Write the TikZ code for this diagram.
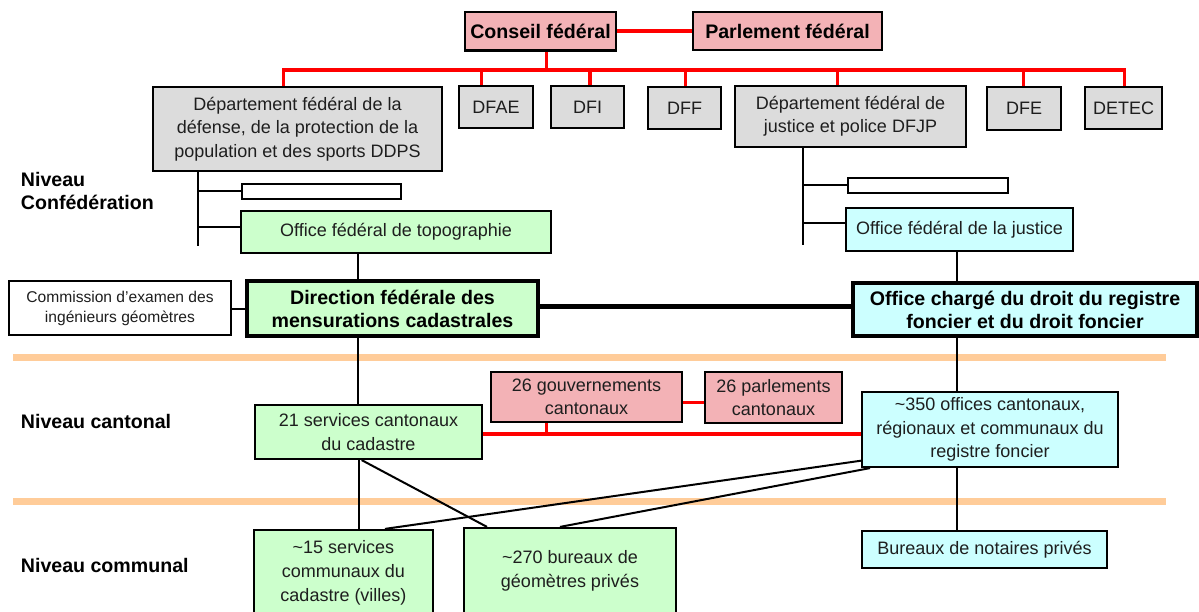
\documentclass[tikz,border=0pt]{standalone}
\usepackage{fontspec}
\setmainfont{Liberation Sans}
\usetikzlibrary{calc}
\definecolor{boxgrey}{RGB}{220,220,220}
\definecolor{lgreen}{RGB}{204,255,204}
\definecolor{lcyan}{RGB}{204,255,255}
\definecolor{pinkr}{RGB}{243,178,182}
\definecolor{peach}{RGB}{255,204,153}
\definecolor{redl}{RGB}{255,0,0}
\definecolor{txt}{RGB}{30,30,30}
\newcommand\regf{\fontsize{18}{23.3}\selectfont}
\newcommand\smf{\fontsize{15.6}{20}\selectfont}
\newcommand\boldf{\fontsize{19.6}{23}\selectfont\bfseries}
\begin{document}
\begin{tikzpicture}[x=1pt,y=-1pt,
  box/.style={draw, line width=2.2pt, inner sep=0pt, align=center, font=\regf, text=txt},
  greybox/.style={box, fill=boxgrey},
  greenbox/.style={box, fill=lgreen},
  cyanbox/.style={box, fill=lcyan},
  pinkbox/.style={box, fill=pinkr},
  emptybox/.style={box, fill=white, line width=2pt},
  mainbox/.style={box, line width=4pt, font=\boldf, text=black},
  lvl/.style={anchor=west, align=left, inner sep=0pt, font=\boldf},
  conn/.style={draw, line width=2pt},
  redline/.style={draw=redl, line width=3.5pt},
  band/.style={draw=peach, line width=7pt}]
\useasboundingbox (0,0) rectangle (1199,612);

% orange level bands
\coordinate (b1l) at (13.3,357.7); \coordinate (b1r) at (1165.7,357.7);
\coordinate (b2l) at (13.3,501.3); \coordinate (b2r) at (1165.7,501.3);
\draw[band] (b1l) -- (b1r);
\draw[band] (b2l) -- (b2r);

% federal top
\node[pinkbox, font=\boldf, text=black, minimum width=151pt, minimum height=38.5pt] (conseil) at (540.5,31.25) {Conseil fédéral};
\node[pinkbox, font=\boldf, text=black, minimum width=189pt, minimum height=38pt] (parlement) at (787.5,31) {Parlement fédéral};

\node[greybox, minimum width=289pt, minimum height=84pt] (ddps) at (297.5,129) {Département fédéral de la\\défense, de la protection de la\\population et des sports DDPS};
\node[greybox, minimum width=74pt, minimum height=42pt] (dfae) at (496,107) {DFAE};
\node[greybox, minimum width=73pt, minimum height=42pt] (dfi) at (587.5,107) {DFI};
\node[greybox, minimum width=73pt, minimum height=42pt] (dff) at (684.5,108) {DFF};
\node[greybox, minimum width=231pt, minimum height=61pt] (dfjp) at (850.5,116.5) {Département fédéral de\\justice et police DFJP};
\node[greybox, minimum width=74pt, minimum height=43pt] (dfe) at (1024,108.5) {DFE};
\node[greybox, minimum width=77pt, minimum height=42pt] (detec) at (1123.5,108) {DETEC};

\node[emptybox, minimum width=159pt, minimum height=15pt] (empty1) at (321.5,191.5) {};
\node[greenbox, minimum width=310pt, minimum height=42pt] (topo) at (396,232) {Office fédéral de topographie};
\node[emptybox, minimum width=160pt, minimum height=15pt] (empty2) at (928,185.5) {};
\node[cyanbox, minimum width=227pt, minimum height=43pt] (ofj) at (959.5,229.5) {Office fédéral de la justice};

\node[box, fill=white, font=\smf, minimum width=222pt, minimum height=54pt] (comm) at (120,308) {Commission d’examen des\\ingénieurs géomètres};
\node[mainbox, fill=lgreen, minimum width=291pt, minimum height=55pt] (dir) at (392.5,308.5) {Direction fédérale des\\mensurations cadastrales};
\node[mainbox, fill=lcyan, minimum width=344pt, minimum height=53pt] (ocd) at (1025,309.5) {Office chargé du droit du registre\\foncier et du droit foncier};

% cantonal
\node[pinkbox, minimum width=191pt, minimum height=50pt] (gouv) at (586.5,397) {26 gouvernements\\cantonaux};
\node[pinkbox, minimum width=137pt, minimum height=51pt] (parl) at (773.5,397.5) {26 parlements\\cantonaux};
\node[greenbox, minimum width=227pt, minimum height=54pt] (s21) at (368.5,432) {21 services cantonaux\\du cadastre};
\node[cyanbox, minimum width=256pt, minimum height=75pt] (o350) at (990,429.5) {\textasciitilde350 offices cantonaux,\\régionaux et communaux du\\registre foncier};

% communal
\node[greenbox, font=\fontsize{18}{24.2}\selectfont, minimum width=179pt, minimum height=86pt] (s15) at (343.5,573) {\textasciitilde15 services\\communaux du\\cadastre (villes)};
\node[greenbox, font=\fontsize{18}{24}\selectfont, minimum width=212pt, minimum height=86pt] (b270) at (570,571) {\textasciitilde270 bureaux de\\géomètres privés};
\node[cyanbox, minimum width=245pt, minimum height=37pt] (bur) at (984.5,549.5) {Bureaux de notaires privés};

% level labels
\node[lvl] (lv1) at (20.7,190.5) {Niveau\\Confédération};
\node[lvl] (lv2) at (20.7,421) {Niveau cantonal};
\node[lvl] (lv3) at (20.7,565) {Niveau communal};

% red federal links
\coordinate (cp) at (conseil.east);
\draw[redline] (cp) -- (cp -| parlement.west);
\coordinate (bc) at (546.7,70);
\draw[redline] (bc |- conseil.south) -- (bc);
\coordinate (dA) at (283.3,70);
\coordinate (dB) at (481.7,70);
\coordinate (dC) at (590,70);
\coordinate (dD) at (685.7,70);
\coordinate (dE) at (837.3,70);
\coordinate (dF) at (1023.3,70);
\coordinate (dG) at (1124.3,70);
\draw[redline] (dA |- ddps.north) -- (dA) -- (dG) -- (dG |- detec.north);
\draw[redline] (dB) -- (dB |- dfae.north);
\draw[redline] (dC) -- (dC |- dfi.north);
\draw[redline] (dD) -- (dD |- dff.north);
\draw[redline] (dE) -- (dE |- dfjp.north);
\draw[redline] (dF) -- (dF |- dfe.north);

% DDPS tree
\coordinate (t1) at (197.7,245.7);
\coordinate (tb1) at ($(topo.west)+(0,-5.3)$);
\draw[conn] (t1 |- ddps.south) -- (t1);
\draw[conn] (t1 |- empty1.west) -- (empty1.west);
\draw[conn] (t1 |- tb1) -- (tb1);

% DFJP tree
\coordinate (t2) at (802.7,245);
\coordinate (tb2) at ($(ofj.west)+(0,-6.2)$);
\draw[conn] (t2 |- dfjp.south) -- (t2);
\draw[conn] (t2 |- empty2.west) -- (empty2.west);
\draw[conn] (t2 |- tb2) -- (tb2);

% vertical connectors
\coordinate (vL) at (358.3,0);
\coordinate (vR) at (956.7,0);
\draw[conn] (vL |- topo.south) -- (vL |- dir.north);
\draw[conn] (vR |- ofj.south) -- (vR |- ocd.north);
\draw[conn] (vL |- dir.south) -- (vL |- s21.north);
\draw[conn] (vR |- ocd.south) -- (vR |- o350.north);
\draw[conn] (vR |- o350.south) -- (vR |- bur.north);
\coordinate (vL2) at (359.3,0);
\draw[conn] (vL2 |- s21.south) -- (vL2 |- s15.north);

% horizontal links
\coordinate (cd) at ($(comm.east)+(0,1.3)$);
\draw[conn] (cd) -- (cd -| dir.west);
\coordinate (dd) at ($(dir.east)+(0,-2.5)$);
\draw[conn, line width=5pt] (dd) -- (dd -| ocd.west);

% cantonal red links
\coordinate (gp) at ($(gouv.east)+(0,5.7)$);
\draw[redline] (gp) -- (gp -| parl.west);
\coordinate (rl) at ($(s21.east)+(0,2)$);
\draw[redline] (rl) -- (rl -| o350.west);
\coordinate (gd) at (546.7,434);
\draw[redline] (gd |- gouv.south) -- (gd);

% diagonals
\draw[conn] ($(s21.south)+(-6.8,0)$) -- ($(b270.north)+(-83,0)$);
\draw[conn] ($(o350.west)+(0,31.2)$) -- ($(s15.north)+(41.5,0)$);
\draw[conn] ($(o350.south)+(-120,0)$) -- ($(b270.north)+(-10,0)$);
\end{tikzpicture}
\end{document}
